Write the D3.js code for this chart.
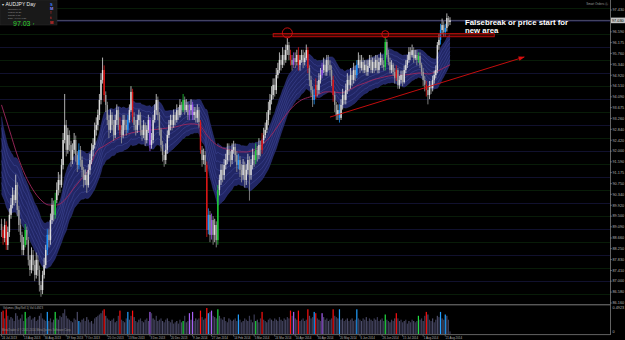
<!DOCTYPE html>
<html><head><meta charset="utf-8">
<script src="https://cdn.jsdelivr.net/npm/d3@7"></script>
<style>html,body{margin:0;padding:0;background:#000;}svg{display:block;}</style>
</head><body>
<svg id="c" width="625" height="340"></svg>
<script>
// ---------------- DATA ----------------
const symbol = "AUDJPY";
const timeframe = "Day";
const firstOpen = 89.2;
const closes = [88.97,88.66,89.16,88.39,88.89,89.55,89.93,90.32,90.12,90.70,
89.74,89.16,88.78,88.20,88.39,88.97,88.58,87.82,87.43,88.01,
87.62,87.24,87.82,87.43,86.85,86.66,87.24,87.62,88.20,88.78,
88.58,89.35,89.93,89.55,90.12,90.51,90.89,90.70,91.47,92.43,
93.01,92.05,92.62,92.24,91.66,92.05,92.43,91.85,91.47,92.05,
91.66,91.28,90.89,91.08,90.70,91.28,91.66,92.05,92.24,92.82,
93.01,93.39,93.97,94.74,95.12,94.16,93.78,93.20,92.82,93.39,
93.01,92.62,93.20,93.58,93.01,92.82,92.62,93.20,93.01,92.82,
93.20,93.58,94.28,93.32,93.01,92.82,93.20,93.39,92.82,92.62,
93.01,92.43,92.82,93.20,92.24,92.43,93.20,93.58,93.97,93.39,
92.82,92.24,91.85,91.66,92.05,92.62,93.01,93.20,93.01,93.39,
93.20,93.58,93.39,93.78,93.58,93.97,93.58,93.78,93.39,93.58,
93.78,93.39,93.51,93.28,93.58,93.12,92.05,91.66,91.85,91.47,
88.97,89.55,88.78,89.35,88.78,89.16,88.58,90.51,90.89,91.28,
91.08,91.47,91.66,92.05,91.85,91.66,92.05,92.16,91.85,91.47,
91.66,91.28,91.08,91.47,90.89,91.28,91.66,91.08,91.47,91.85,
91.66,92.05,91.85,92.24,92.05,92.43,92.62,92.82,93.20,93.58,
93.97,94.16,94.55,94.35,94.93,95.12,95.51,95.32,95.70,95.51,
95.89,96.08,95.70,95.51,95.32,95.58,95.43,95.70,95.32,95.51,
95.70,95.43,95.58,95.89,95.20,94.74,94.35,93.97,94.16,94.55,
94.35,94.74,94.93,95.12,95.32,95.05,95.51,95.32,95.12,94.74,
94.16,93.78,93.39,93.58,93.28,93.78,94.16,93.97,94.35,94.74,
94.55,94.93,94.74,95.12,94.93,95.32,95.51,95.20,95.43,95.12,
95.32,95.05,95.28,95.51,95.12,95.43,95.20,95.51,95.12,95.43,
95.58,95.32,95.24,96.20,95.70,95.43,95.12,95.32,95.05,94.82,
95.12,94.55,94.74,94.93,94.66,95.12,95.32,95.51,95.82,95.70,
95.89,95.58,95.70,95.51,95.66,95.32,95.05,94.74,94.55,94.35,
94.16,94.55,94.43,94.74,94.93,95.12,96.08,96.28,96.66,96.85,
96.58,96.74,97.12,96.97,97.03];
const highs = [89.4,89.1,89.4,89.3,89.1,89.8,90.2,90.6,90.5,91.1,
90.8,89.9,89.4,88.9,88.7,89.2,89.1,88.7,88.0,88.3,
88.2,87.8,88.1,88.0,87.6,87.0,87.4,87.9,88.4,89.0,
89.0,89.6,90.2,90.1,90.4,90.8,91.2,91.1,91.7,92.7,
94.2,93.2,92.9,92.8,92.4,92.3,92.7,92.6,92.0,92.3,
92.2,91.8,91.4,91.3,91.2,91.5,91.9,92.3,92.5,93.1,
93.3,93.6,94.2,95.0,95.6,95.3,94.3,93.9,93.4,93.6,
93.5,93.2,93.4,93.8,93.7,93.3,93.0,93.4,93.4,93.2,
93.4,93.8,94.5,94.4,93.5,93.2,93.4,93.6,93.5,93.0,
93.2,93.1,93.0,93.4,93.3,92.7,93.4,93.8,94.2,94.1,
93.5,92.9,92.4,92.0,92.3,92.8,93.2,93.4,93.4,93.6,
93.5,93.8,93.7,94.0,93.9,94.2,94.1,94.0,93.9,93.8,
94.0,93.9,93.7,93.7,93.8,93.7,93.2,92.2,92.1,92.0,
91.6,89.8,89.7,89.6,89.5,89.4,89.3,90.7,91.1,91.5,
91.5,91.7,91.9,92.3,92.3,92.0,92.3,92.4,92.3,92.0,
91.9,91.8,91.5,91.7,91.6,91.5,91.9,91.8,91.7,92.1,
92.0,92.3,92.2,92.5,92.4,92.7,92.9,93.1,93.5,93.9,
94.2,94.5,94.8,94.8,95.2,95.4,95.8,95.7,96.0,95.9,
96.1,96.35,96.2,95.9,95.7,95.8,95.8,95.9,96.0,95.7,
95.9,95.9,95.8,96.1,96.0,95.3,94.9,94.5,94.4,94.8,
94.7,95.0,95.2,95.4,95.6,95.5,95.7,95.7,95.5,95.3,
94.9,94.3,93.9,93.8,93.8,94.0,94.4,94.3,94.6,95.0,
94.9,95.2,95.1,95.4,95.3,95.5,95.8,95.7,95.7,95.6,
95.5,95.5,95.5,95.7,95.7,95.6,95.6,95.7,95.7,95.6,
95.8,95.7,95.5,96.4,96.3,95.9,95.6,95.5,95.4,95.2,
95.3,95.2,94.9,95.1,95.1,95.3,95.5,95.7,96.0,96.0,
96.1,96.0,95.9,95.9,95.8,95.8,95.4,95.2,94.9,94.7,
94.5,94.7,94.7,94.9,95.1,95.3,96.2,96.5,96.9,97.1,
97.0,96.9,97.3,97.2,97.15];
const lows = [88.7,88.4,88.5,88.2,88.2,88.7,89.4,89.8,89.9,90.0,
89.5,88.9,88.5,88.0,88.0,88.3,88.4,87.6,87.2,87.3,
87.4,87.0,87.1,87.2,86.6,86.4,86.5,87.1,87.5,88.0,
88.3,88.4,89.2,89.3,89.4,90.0,90.3,90.4,90.6,91.3,
92.3,91.8,91.9,92.0,91.4,91.5,91.9,91.6,91.2,91.3,
91.4,91.0,90.6,90.7,90.4,90.6,91.1,91.5,91.8,92.1,
92.6,92.8,93.2,93.8,94.6,93.9,93.5,93.0,92.5,92.7,
92.8,92.4,92.5,93.0,92.8,92.6,92.3,92.5,92.8,92.6,
92.7,93.1,93.5,93.1,92.8,92.6,92.7,93.0,92.6,92.4,
92.5,92.2,92.3,92.7,92.0,92.1,92.3,93.1,93.4,93.2,
92.6,92.0,91.6,91.4,91.5,91.9,92.5,92.8,92.8,92.9,
93.0,93.1,93.2,93.3,93.4,93.5,93.4,93.5,93.2,93.2,
93.4,93.2,93.2,93.1,93.1,92.9,91.9,91.4,91.5,91.2,
88.7,88.8,88.5,88.6,88.4,88.5,88.3,88.4,90.3,90.7,
90.8,90.9,91.3,91.5,91.6,91.4,91.5,91.9,91.6,91.2,
91.3,91.0,90.8,90.9,90.6,90.7,91.1,90.1,90.9,91.3,
91.4,91.5,91.6,91.7,91.8,91.9,92.3,92.5,92.7,93.0,
93.4,93.8,94.0,94.1,94.2,94.8,95.0,95.1,95.2,95.3,
95.4,95.7,95.5,95.3,95.1,95.2,95.2,95.3,95.1,95.1,
95.4,95.2,95.3,95.5,95.0,94.5,94.1,93.7,93.8,94.0,
94.1,94.2,94.6,94.8,95.0,94.9,94.9,95.1,94.9,94.5,
93.9,93.5,93.2,93.2,93.1,93.2,93.6,93.8,93.8,94.2,
94.3,94.4,94.5,94.6,94.7,94.8,95.2,95.0,95.1,95.0,
95.0,94.9,94.9,95.2,95.0,95.0,95.0,95.1,95.0,95.0,
95.3,95.2,95.1,95.1,95.6,95.3,95.0,95.0,94.9,94.6,
94.7,94.4,94.4,94.6,94.5,94.6,95.0,95.2,95.4,95.5,
95.6,95.4,95.5,95.3,95.4,95.2,94.9,94.5,94.3,94.1,
93.8,94.0,94.2,94.3,94.6,94.8,95.0,95.9,96.1,96.5,
96.4,96.4,96.6,96.8,96.85];
const volumes = [85,90,60,95,70,55,65,60,50,80,
70,55,60,75,50,85,60,65,70,55,
60,65,50,55,70,80,60,55,50,85,
50,60,45,55,85,60,55,70,65,80,
95,70,60,55,50,45,60,55,85,50,
45,55,60,50,65,55,45,50,40,60,
65,70,75,80,90,95,70,60,55,50,
55,60,45,50,70,90,55,50,45,60,
85,55,70,90,65,50,45,55,60,50,
45,55,60,50,85,80,60,55,70,50,
55,60,50,45,55,60,50,45,55,40,
45,50,40,55,45,50,70,45,50,80,
55,85,50,60,55,60,90,65,55,60,
100,80,85,90,70,65,60,95,70,60,
55,65,50,45,60,55,50,55,60,50,
75,55,45,50,60,55,50,70,55,45,
75,50,55,45,60,85,55,50,45,55,
60,55,50,60,55,50,65,55,50,60,
55,65,60,90,70,85,60,55,90,50,
55,60,50,55,95,70,60,65,85,80,
60,55,50,80,65,55,60,50,55,60,
95,70,65,60,95,55,60,50,55,60,
50,55,60,50,55,95,60,55,50,60,
55,65,50,60,55,50,60,55,65,50,
55,60,50,75,55,50,45,55,50,60,
80,60,50,55,45,50,55,40,50,45,
55,50,45,50,70,55,60,50,70,85,
75,55,50,60,45,55,70,65,85,60,
55,75,70,55,10];
// signal category of highlighted bars (r = sell, b = buy, g = strong buy, p = neutral)
const barSignals = {1:"r",3:"r",15:"g",29:"b",34:"g",49:"b",65:"r",75:"r",80:"b",83:"r",94:"p",
  115:"g",119:"p",121:"p",126:"r",130:"r",131:"b",133:"p",137:"g",150:"b",161:"g",165:"r",
  183:"r",185:"p",188:"r",194:"r",198:"b",199:"r",203:"p",210:"r",214:"b",225:"b",243:"g",
  250:"r",264:"g",269:"r",278:"b",281:"b"};
// slow moving average (read every 5 bars)
const maIndex = [0,5,10,15,20,25,30,35,40,45,50,55,60,65,70,75,80,85,90,95,100,105,110,115,120,125,130,135,140,145,150,155,160,165,170,175,180,185,190,195,200,205,210,215,220,225,230,235,240,245,250,255,260,265,270,275,280,284];
const maValues = [93.78,92.82,91.85,91.08,90.51,90.12,89.93,89.93,90.12,90.51,90.89,91.28,91.97,92.20,92.39,92.55,92.66,92.74,92.78,92.82,92.85,92.89,92.93,93.01,93.05,93.01,92.62,92.30,92.12,92.05,91.97,91.97,92.05,92.24,92.55,92.97,93.39,93.74,93.97,94.08,94.16,94.28,94.28,94.24,94.35,94.51,94.62,94.74,94.82,94.89,94.93,94.93,94.97,95.01,94.97,95.05,95.20,95.32];
// ribbon: EMA of close +/- ATR-like width
const ribbonPeriod = 24, ribbonRangePeriod = 14, ribbonWidthFactor = 1.0;
const ribbonSeedCenter = 92.1, ribbonSeedRange = 1.6;
const priceTicks = ["97.430","96.590","96.175","95.760","95.340","94.920","94.510","94.090","93.675","93.260","92.840","92.420","92.000","91.590","91.175","90.750","90.340","89.920","89.500","89.090","88.660","88.250","87.830","87.410","87.000","86.580","86.160"];
const dateLabels = ["24 Jul 2013","13 Aug 2013","30 Aug 2013","19 Sep 2013","7 Oct 2013","25 Oct 2013","13 Nov 2013","3 Dec 2013","20 Dec 2013","9 Jan 2014","27 Jan 2014","14 Feb 2014","5 Mar 2014","24 Mar 2014","10 Apr 2014","30 Apr 2014","20 May 2014","6 Jun 2014","26 Jun 2014","15 Jul 2014","1 Aug 2014","21 Aug 2014"];
const lastPriceLabel = "97.030";
const resistance = {from:172, to:312, top:96.52, bottom:96.40};
const touchPoints = [{i:181, p:96.55, r:5}, {i:243, p:96.50, r:3.5}];
const trendLine = [{i:208, p:93.31}, {i:331, p:95.62}];
const noteLines = [{i:293.5, p:96.87, t:"Falsebreak or price start for"}, {i:293.5, p:96.55, t:"new area"}];
const infoRows = ["Spread    1.40","LotPip    10.29","Range     0.88","Daily   +0.7%  0.58"];
const volumeTitle = "Volumes (Buy/Sell 1)  Vol  0.4923";
const volumeMaxLabel = "0.4923";

// ---------------- DRAW ----------------
const svg = d3.select("#c");
const plotR = 610;
const n = closes.length;
const dates = d3.timeDays(new Date(2013,6,24), new Date(2014,8,10)).filter(d => d.getDay()%6 !== 0).slice(0, n);
const x = d3.scaleLinear().domain([0, n-1]).range([1.5, 450]);
const y = d3.scaleLinear().domain([86.16, 97.43]).range([303, 10]);
const yv = d3.scaleLinear().domain([0, 100]).range([334, 308]);
const FONT = "'Liberation Sans', Arial, sans-serif";
const sigColor = {r:"#e01818", b:"#1e96ff", g:"#1fcf3a", p:"#9b55ee"};
const volSigColor = {r:"#ff1010", b:"#22a0ff", g:"#22dd44", p:"#a860f5"};

svg.append("rect").attr("width",625).attr("height",340).attr("fill","#000");

svg.append("clipPath").attr("id","pc").append("rect").attr("x",0).attr("y",0).attr("width",plotR).attr("height",304);
const plot = svg.append("g").attr("clip-path","url(#pc)");

// grid
const grid = d3.range(86.5, 97.51, 0.5);
plot.selectAll("line.g").data(grid).join("line")
  .attr("x1",0).attr("x2",plotR).attr("y1",d=>Math.round(y(d))+0.5).attr("y2",d=>Math.round(y(d))+0.5)
  .attr("stroke",d=> Math.abs(d-Math.round(d))<1e-6 ? "#15153a" : "#0a230a").attr("stroke-width",0.8);

// ribbon
const a = 2/(ribbonPeriod+1), ar = 2/(ribbonRangePeriod+1);
let ec = ribbonSeedCenter, er = ribbonSeedRange;
const rib = [];
for (let i=0;i<n;i++){
  ec = ec + a*(closes[i]-ec);
  er = er + ar*((highs[i]-lows[i])-er);
  rib.push({i, h:ec + ribbonWidthFactor*er, l:ec - ribbonWidthFactor*er});
}
plot.append("path").datum(rib)
  .attr("d", d3.area().x(d=>x(d.i)).y0(d=>y(d.l)).y1(d=>y(d.h)).curve(d3.curveMonotoneX))
  .attr("fill","#23286a").attr("opacity",0.95);
d3.range(0,1.0001,1/7).forEach((t,k)=>{
  plot.append("path").datum(rib)
    .attr("d", d3.line().x(d=>x(d.i)).y(d=>y(d.l + t*(d.h-d.l))).curve(d3.curveMonotoneX))
    .attr("fill","none").attr("stroke", (k===0||k===7)?"#3a4190":"#4c55aa").attr("stroke-width",0.5).attr("opacity",0.85);
});

// slow MA
plot.append("path").datum(maIndex.map((d,k)=>({i:d, v:maValues[k]})))
  .attr("d", d3.line().x(d=>x(d.i)).y(d=>y(d.v)).curve(d3.curveMonotoneX))
  .attr("fill","none").attr("stroke","#a0285e").attr("stroke-width",0.9);

// last price line
plot.append("line").attr("x1",0).attr("x2",plotR)
  .attr("y1",y(closes[n-1])).attr("y2",y(closes[n-1]))
  .attr("stroke","#55557a").attr("stroke-width",0.9);

// candles
const bars = closes.map((c,i)=>{
  const o = i ? closes[i-1] : firstOpen;
  return {i, o, c, h:Math.max(highs[i],o,c), l:Math.min(lows[i],o,c), s:barSignals[i]};
});
const candleColor = d => d.s ? sigColor[d.s] : (d.c>=d.o ? "#dcdcdc" : "#9a9a9a");
plot.selectAll("line.w").data(bars).join("line")
  .attr("x1",d=>x(d.i)).attr("x2",d=>x(d.i)).attr("y1",d=>y(d.h)).attr("y2",d=>y(d.l))
  .attr("stroke",candleColor).attr("stroke-width",0.8);
plot.selectAll("rect.b").data(bars).join("rect")
  .attr("x",d=>x(d.i)-0.7).attr("width",1.4)
  .attr("y",d=>Math.min(y(d.o),y(d.c))).attr("height",d=>Math.max(0.8,Math.abs(y(d.o)-y(d.c))))
  .attr("fill",candleColor);

// annotations
const red = "#d80e0e";
plot.append("rect").attr("x",x(resistance.from)).attr("width",x(resistance.to)-x(resistance.from))
  .attr("y",y(resistance.top)).attr("height",y(resistance.bottom)-y(resistance.top))
  .attr("fill","rgba(190,0,0,0.35)").attr("stroke",red).attr("stroke-width",0.8);
plot.selectAll("circle.t").data(touchPoints).join("circle")
  .attr("cx",d=>x(d.i)).attr("cy",d=>y(d.p)).attr("r",d=>d.r)
  .attr("fill","none").attr("stroke",red).attr("stroke-width",0.9);
svg.append("defs").append("marker").attr("id","arr").attr("viewBox","0 0 10 10")
  .attr("refX",9).attr("refY",5).attr("markerWidth",7).attr("markerHeight",7).attr("orient","auto")
  .append("path").attr("d","M0,1.5 L10,5 L0,8.5 Z").attr("fill",red);
plot.append("line").attr("x1",x(trendLine[0].i)).attr("y1",y(trendLine[0].p))
  .attr("x2",x(trendLine[1].i)).attr("y2",y(trendLine[1].p))
  .attr("stroke",red).attr("stroke-width",0.9).attr("marker-end","url(#arr)");
plot.selectAll("text.note").data(noteLines).join("text")
  .attr("x",d=>x(d.i)).attr("y",d=>y(d.p)).text(d=>d.t)
  .attr("fill","#fff").attr("font-family",FONT).attr("font-weight","bold").attr("font-size",7.8);

// right axis
svg.append("line").attr("x1",plotR+0.5).attr("x2",plotR+0.5).attr("y1",0).attr("y2",335).attr("stroke","#7c7c7c").attr("stroke-width",0.8);
const tk = svg.append("g");
priceTicks.forEach(t=>{
  const yy = y(+t);
  tk.append("line").attr("x1",plotR).attr("x2",plotR+2).attr("y1",yy).attr("y2",yy).attr("stroke","#8a8a8a").attr("stroke-width",0.6);
  tk.append("text").attr("x",plotR+2.5).attr("y",yy+1.3).text(t).attr("fill","#b4b4b4").attr("font-family",FONT).attr("font-size",3.8);
});
const ly = y(closes[n-1]);
svg.append("rect").attr("x",plotR+1).attr("y",ly-2.8).attr("width",14).attr("height",5.6).attr("fill","#c4c4c4");
svg.append("text").attr("x",plotR+2).attr("y",ly+1.4).text(lastPriceLabel).attr("fill","#000").attr("font-family",FONT).attr("font-size",3.8);

// volume panel
svg.append("line").attr("x1",0).attr("x2",plotR).attr("y1",304.8).attr("y2",304.8).attr("stroke","#8c8c8c").attr("stroke-width",0.9);
svg.selectAll("rect.v").data(bars).join("rect")
  .attr("x",d=>x(d.i)-0.6).attr("width",1.2)
  .attr("y",d=>yv(volumes[d.i])).attr("height",d=>yv(0)-yv(volumes[d.i]))
  .attr("fill",d=> d.s ? volSigColor[d.s] : (d.i%3===0 ? "#4c4c68" : "#3b3b55"));
svg.append("text").attr("x",3).attr("y",308.5).text(volumeTitle).attr("fill","#a8a8a8").attr("font-family",FONT).attr("font-size",2.8);
svg.append("text").attr("x",2).attr("y",331).text("MetaTrader 4 © 2001-2014 MetaQuotes Software Corp.").attr("fill","#8c8c8c").attr("font-family",FONT).attr("font-size",2.8);
svg.append("text").attr("x",plotR+2.5).attr("y",308.5).text(volumeMaxLabel).attr("fill","#b4b4b4").attr("font-family",FONT).attr("font-size",3.8);
svg.append("text").attr("x",plotR+2.5).attr("y",333).text("0").attr("fill","#b4b4b4").attr("font-family",FONT).attr("font-size",3.8);
svg.append("line").attr("x1",0).attr("x2",plotR).attr("y1",334.6).attr("y2",334.6).attr("stroke","#7c7c7c").attr("stroke-width",0.8);

// date axis
const parse = d3.timeParse("%d %b %Y");
const fmtKey = d3.timeFormat("%Y-%m-%d");
const idxByDate = new Map(dates.map((d,i)=>[fmtKey(d), i]));
dateLabels.forEach(lbl=>{
  const i = idxByDate.get(fmtKey(parse(lbl)));
  if (i===undefined) return;
  svg.append("line").attr("x1",x(i)).attr("x2",x(i)).attr("y1",334.6).attr("y2",336.5).attr("stroke","#8a8a8a").attr("stroke-width",0.6);
  svg.append("text").attr("x",x(i)+0.5).attr("y",339).text(lbl).attr("fill","#b4b4b4").attr("font-family",FONT).attr("font-size",2.9);
});

// top right label
svg.append("text").attr("x",608).attr("y",5).attr("text-anchor","end").text("Smart Orders ⓢ").attr("fill","#9c9c9c").attr("font-family",FONT).attr("font-size",3);

// info box
const ib = svg.append("g");
ib.append("rect").attr("x",0).attr("y",0).attr("width",57).attr("height",25).attr("fill","#191919").attr("stroke","#2c2c2c").attr("stroke-width",0.5);
ib.append("text").attr("x",2).attr("y",6).text("▾").attr("fill","#ddd").attr("font-family",FONT).attr("font-size",3.5);
ib.append("text").attr("x",5.5).attr("y",6.3).text(symbol + "  " + timeframe).attr("fill","#f0f0f0").attr("font-family",FONT).attr("font-size",5);
infoRows.forEach((r,k)=> ib.append("text").attr("x",8).attr("y",9.8+k*2.9).text(r).attr("fill","#9a9a9a").attr("font-family",FONT).attr("font-size",2.4));
ib.append("text").attr("x",13).attr("y",25.5).text(closes[n-1].toFixed(2)).attr("fill","#2ed12e").attr("font-family",FONT).attr("font-size",7);
ib.append("text").attr("x",33).attr("y",25).text("r").attr("fill","#2ed12e").attr("font-family",FONT).attr("font-size",4);
[["S","#3a7bff",5.5],["M","#8888ff",10],["!","#e03030",14],["t","#e03030",18.5],["M","#e03030",24]].forEach(([t,c,yy])=>
  ib.append("text").attr("x",50).attr("y",yy).text(t).attr("fill",c).attr("font-family",FONT).attr("font-weight","bold").attr("font-size",4));
</script>
</body></html>
